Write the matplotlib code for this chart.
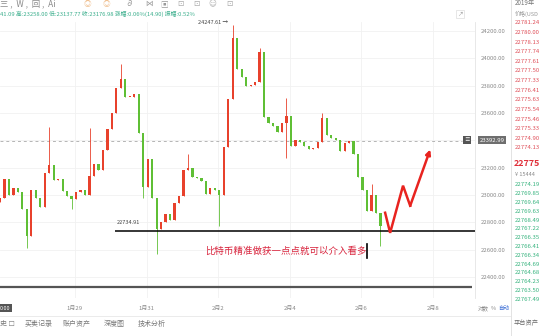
import numpy as np
import matplotlib.pyplot as plt
from matplotlib.lines import Line2D

plt.rcParams['font.family'] = ['Noto Sans CJK SC', 'DejaVu Sans']
plt.rcParams['axes.unicode_minus'] = False

W, H = 540, 336

# 3시간봉 종가 (x축 단위: 1월 일자, 2월1일 = 32)
start_day = 26.905
step = 0.125
first_open = 22950
closes = [22980, 23120, 23000, 23050, 23020, 22900, 22700, 23040, 22980, 22910,
          23160, 23220, 23110, 23120, 23030, 22995, 22970, 23020, 23035, 23000,
          23140, 23225, 23180, 23330, 23480, 23600, 23780, 23850, 23720, 23720,
          23740, 23450, 23060, 23260, 22980, 22750, 22800, 22860, 22815, 22940,
          22990, 23180, 23200, 23130, 23125, 23100, 23010, 23050, 23040, 23000,
          23350, 23700, 24150, 23920, 23860, 23800, 23805, 23830, 24050, 23570,
          23530, 23505, 23460, 23530, 23580, 23360, 23400, 23390, 23360, 23340,
          23345, 23390, 23560, 23440, 23415, 23400, 23320, 23380, 23395, 23300,
          23130, 23040, 22880, 23000, 22870, 22770]
spike_high = {11: 23495, 20: 23488, 27: 23957, 42: 23303, 52: 24247.61,
              58: 24075, 64: 23707, 72: 23600, 83: 23083}
spike_low = {6: 22612, 16: 22899, 32: 22980, 35: 22569, 49: 22775,
             64: 23267, 85: 22627}

price_ticks = [22400, 22600, 22800, 23000, 23200, 23400, 23600, 23800, 24000, 24200]
date_ticks = [29, 31, 33, 35, 37, 39]
date_labels = ['1月29', '1月31', '2月2', '2月4', '2月6', '2月8']

support_price = 22734.91
support_start = 30.12
last_price = 23392.99
bottom_level = 22330

# 예상 경로 (빨간 화살표)
plan_days = [37.66, 37.80, 38.16, 38.36, 38.92]
plan_prices = [22870, 22723, 23068, 22921, 23333]

asks = ['22781.24', '22780.00', '22778.13', '22777.74', '22777.61', '22777.50', '22777.33',
        '22776.41', '22775.63', '22775.54', '22775.46', '22775.33', '22774.90', '22774.13']
bids = ['22774.19', '22769.85', '22769.64', '22769.63', '22768.49', '22767.22', '22766.35',
        '22766.41', '22766.34', '22764.69', '22764.68', '22764.23', '22763.50', '22767.49']

UP = '#e8412c'
DOWN = '#5fbf35'

fig = plt.figure(figsize=(W / 100, H / 100), dpi=100)
fig.patch.set_facecolor('white')
ax = fig.add_axes([0, 1 - 298 / H, 475 / W, (298 - 22) / H])


def ft(x, y, s, **kw):
    kw.setdefault('va', 'center')
    return fig.text(x / W, 1 - y / H, s, **kw)


def fline(x0, y0, x1, y1, **kw):
    fig.add_artist(Line2D([x0 / W, x1 / W], [1 - y0 / H, 1 - y1 / H], **kw))


times = start_day + step * np.arange(len(closes))
opens = [first_open] + closes[:-1]
for i, (t, o, c) in enumerate(zip(times, opens, closes)):
    col = UP if c >= o else DOWN
    hi = spike_high.get(i, max(o, c))
    lo = spike_low.get(i, min(o, c))
    ax.vlines(t, lo, hi, color=col, lw=0.6, zorder=3)
    ax.bar(t, max(abs(c - o), 6), bottom=min(o, c), width=step * 0.5,
           color=col, linewidth=0, zorder=3)

ax.axhline(last_price, color='#b5b5b5', lw=0.7, ls=(0, (3, 3)), xmax=462 / 475, zorder=2)
ax.hlines(support_price, support_start, 40.2, color='black', lw=1.1, zorder=4)
ax.hlines(bottom_level, start_day, 40.1, color='#555555', lw=1.6, zorder=4)

ax.plot(plan_days[:-1], plan_prices[:-1], color='#e8231f', lw=1.8,
        solid_joinstyle='miter', zorder=5)
ax.annotate('', xy=(plan_days[-1], plan_prices[-1]), xytext=(plan_days[-2], plan_prices[-2]),
            arrowprops=dict(arrowstyle='-|>', color='#e8231f', lw=1.8,
                            mutation_scale=7, shrinkA=0, shrinkB=0), zorder=5)

ax.set_xlim(start_day, 40.17)
ax.set_ylim(22246, 24266)
ax.set_xticks(date_ticks)
ax.set_xticklabels(date_labels)
ax.set_yticks(price_ticks)
ax.set_yticklabels(['%.2f' % p for p in price_ticks])
ax.yaxis.tick_right()
ax.tick_params(axis='both', length=0, labelsize=4.3, colors='#8a8a8a')
ax.tick_params(axis='x', pad=6)
ax.tick_params(axis='y', pad=4)
ax.grid(True, color='#f1f1f1', lw=0.6)
ax.set_axisbelow(True)
for side in ['top', 'left', 'bottom']:
    ax.spines[side].set_visible(False)
ax.spines['right'].set_color('#e4e4e4')
ax.spines['right'].set_linewidth(0.6)

# 상단 도구막대와 시세 정보
ft(0, 4, '三 ,  W ,  回 ,  Ai', fontsize=6, color='#888888', ha='left')
for x, g, c in [(84, '◎', '#f0c090'), (103, '◎', '#f0c090'), (125, '∂', '#999999'),
                (145, '⋈', '#999999'), (160, '▣', '#999999'), (177, '⊡', '#aaaaaa'),
                (193, '⊡', '#aaaaaa'), (208, '☺', '#aaaaaa'), (226, '⊡', '#aaaaaa')]:
    ft(x, 4, g, fontsize=5.5, color=c, ha='left')
ft(0, 14, '41.09 高:23258.00 低:23137.77 收:23176.98 涨幅:0.06%(14.90) 振幅:0.52%',
   fontsize=4.2, color='#3aae8c', ha='left')
ft(460, 14, '↗', fontsize=4, color='#999999', ha='center',
   bbox=dict(boxstyle='square,pad=0.3', fc='white', ec='#dddddd', lw=0.5))

ft(198, 22, '24247.61 →', fontsize=4, color='#444444', ha='left')
ft(117, 222, '22734.91', fontsize=4, color='#444444', ha='left')
ft(467, 140, '≡', fontsize=4, color='white', ha='center',
   bbox=dict(boxstyle='square,pad=0.3', fc='#555555', ec='none'))
ft(492, 140, '23392.99', fontsize=4.3, color='white', ha='center',
   bbox=dict(boxstyle='square,pad=0.3', fc='#6e6e6e', ec='none'))

ft(205, 251, '比特币精准做获一点点就可以介入看多', fontsize=6.8, color='#d9263f', ha='left')
fline(367, 244, 367, 258, color='black', lw=1.2)

# 하단
ft(0, 308, '0:00', fontsize=4, color='white', ha='left',
   bbox=dict(boxstyle='square,pad=0.3', fc='#555555', ec='none'))
ft(478, 308, '对数', fontsize=4, color='#888888', ha='left')
ft(491, 308, '%', fontsize=4, color='#888888', ha='left')
ft(498, 308, '自动', fontsize=4, color='#3d6fd6', ha='left')
fline(0, 316, 511, 316, color='#e8e8e8', lw=0.6)
for x, s in [(0, '史 ☐'), (25, '买卖记录'), (63, '账户资产'), (104, '深度图'), (138, '技术分析')]:
    ft(x, 324, s, fontsize=5, color='#777777', ha='left')

# 오른쪽 호가창
fline(511, 0, 511, 336, color='#e3e3e3', lw=0.7)
ft(515, 3, '2019年', fontsize=4.5, color='#777777', ha='left')
ft(515, 14, '价格(USD', fontsize=4, color='#999999', ha='left')
for k, s in enumerate(asks):
    ft(515, 23 + k * 9.6, s, fontsize=4.3, color='#e0505a', ha='left')
ft(514, 164, '22775', fontsize=6.4, color='#e0303a', ha='left', fontweight='bold')
ft(515, 174, '¥ 15444', fontsize=4, color='#888888', ha='left')
for k, s in enumerate(bids):
    ft(515, 185 + k * 8.8, s, fontsize=4.3, color='#36b37e', ha='left')
ft(514, 323, '平台资产', fontsize=4.5, color='#666666', ha='left')

fig.savefig('out.png', dpi=100, facecolor='white')
